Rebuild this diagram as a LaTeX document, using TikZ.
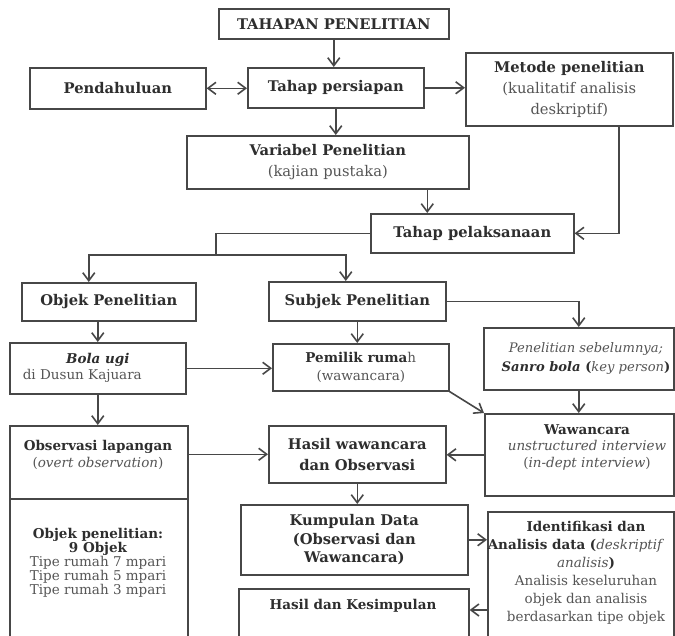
\documentclass[tikz,border=0pt]{standalone}
\usepackage{fontspec}
\setmainfont{DejaVu Serif}
\usetikzlibrary{arrows.meta,calc}
\definecolor{ink}{HTML}{2E2E2E}
\definecolor{soft}{HTML}{555555}
\definecolor{edgec}{HTML}{474747}
\newcommand{\rg}[1]{{\color{soft}\mdseries #1}}
\newcommand{\fs}[2]{\fontsize{#1}{#2}\selectfont}
\begin{document}
\begin{tikzpicture}[x=1pt,y=-1pt,
  box/.style={draw=edgec, line width=1.6pt, rectangle, inner sep=0pt, anchor=north west,
              align=center, text=ink, font=\fs{14.7}{21}\bfseries},
  lbl/.style={inner sep=0pt, align=center, text=ink, font=\fs{13.5}{18}\bfseries},
  ln/.style={draw=edgec, line width=1.6pt},
  arr/.style={ln, -{Straight Barb[length=8pt,width=12pt,line width=1.6pt]}},
  arrb/.style={ln, {Straight Barb[length=8pt,width=12pt,line width=1.6pt]}-{Straight Barb[length=8pt,width=12pt,line width=1.6pt]}}]
\useasboundingbox (0,0) rectangle (675,635);
\clip (0,0) rectangle (675,635);
\fill[white] (0,0) rectangle (675,635);

% boxes
\node[box, minimum width=230pt, minimum height=30pt] (tah) at (218,8) {TAHAPAN PENELITIAN};
\node[box, minimum width=176pt, minimum height=41pt] (pen) at (29,67) {Pendahuluan};
\node[box, minimum width=176pt, minimum height=40pt] (per) at (247,67) {Tahap persiapan};
\node[box, minimum width=207pt, minimum height=73pt] (met) at (465,52)
  {Metode penelitian\\\rg{(kualitatif analisis}\\\rg{deskriptif)}};
\node[box, minimum width=282pt, minimum height=53pt] (var) at (186,135)
  {Variabel Penelitian\\\rg{(kajian pustaka)}};
\node[box, minimum width=203pt, minimum height=39pt] (pel) at (370,213) {Tahap pelaksanaan};
\node[box, minimum width=174pt, minimum height=38pt] (obj) at (21,282) {Objek Penelitian};
\node[box, minimum width=177pt, minimum height=39pt] (sub) at (268,281) {Subjek Penelitian};
\node[box, minimum width=176pt, minimum height=51pt, font=\fs{13.5}{16}\bfseries] (bol) at (9,342)
  {\textit{Bola ugi}\\\rg{di Dusun Kajuara}\hspace*{31pt}};
\node[box, minimum width=176pt, minimum height=47pt, font=\fs{13.5}{18}\bfseries] (pem) at (272,343)
  {Pemilik ruma\rg{h}\\\rg{(wawancara)}};
\node[box, minimum width=190pt, minimum height=62pt] (seb) at (483,327) {};
\node[box, minimum width=189pt, minimum height=82pt] (waw) at (484,413) {};
\node[box, minimum width=177pt, minimum height=57pt] (has) at (268,425)
  {Hasil wawancara\\dan Observasi};
\node[box, minimum width=178pt, minimum height=73pt] (obs) at (9,425) {};
\node[box, minimum width=178pt, minimum height=160pt] (obt) at (9,498) {};
\node[box, minimum width=227pt, minimum height=70pt, font=\fs{14.7}{18.5}\bfseries] (kum) at (240,504)
  {Kumpulan Data\\(Observasi dan\\Wawancara)};
\node[box, minimum width=186pt, minimum height=150pt] (ide) at (487,511) {};
\node[box, minimum width=230pt, minimum height=70pt] (hdk) at (238,588) {};

% texts placed off-centre
\node[lbl, font=\fs{13.1}{19}\bfseries] (sebt) at (586,358)
  {\rg{\itshape Penelitian sebelumnya;}\\\textit{Sanro bola} (\rg{\itshape key person})};
\node[lbl, font=\fs{13.5}{16.5}\bfseries] (wawt) at (587,447)
  {Wawancara\\\rg{\itshape unstructured interview}\\\rg{(\textit{in-dept interview})}};
\node[lbl, font=\fs{13.5}{17}\bfseries] (obst) at (98,455)
  {Observasi lapangan\\\rg{(\textit{overt observation})}};
\node[lbl, font=\fs{13.5}{14}\bfseries] (obtt) at (98,563)
  {Objek penelitian:\\9 Objek\\\rg{Tipe rumah 7 mpari}\\\rg{Tipe rumah 5 mpari}\\\rg{Tipe rumah 3 mpari}};
\node[lbl, font=\fs{13.5}{18}\bfseries] (idet) at (586,573)
  {Identifikasi dan\\Analisis data (\rg{\itshape deskriptif}\rule{22pt}{0pt}\\\rg{\itshape analisis})\\
   \rg{Analisis keseluruhan}\\\rg{objek dan analisis}\\\rg{berdasarkan tipe objek}};
\node[lbl] (hdkt) at (353,606) {Hasil dan Kesimpulan};

% connectors
\draw[arr] (tah.south) -- (tah.south |- per.north);
\draw[arrb] (pen.east) -- (pen.east -| per.west);
\draw[arr] (per.east) -- (per.east -| met.west);
\draw[arr] (per.south) -- (per.south |- var.north);
\draw[arr] ([xshift=-45pt]pel.north |- var.south) -- ([xshift=-45pt]pel.north);
\draw[arr] ([xshift=49.5pt]met.south) |- (pel.east);
\coordinate (bus) at (216,255);
\draw[ln] (pel.west) -| (bus);
\draw[arr] (bus) -| ([xshift=-20pt]obj.north);
\draw[arr] (bus) -| ([xshift=-11.5pt]sub.north);
\draw[arr] (bol.north |- obj.south) -- (bol.north);
\draw[arr] (sub.south) -- (sub.south |- pem.north);
\draw[arr] (sub.east) -| (seb.north);
\draw[arr] (bol.east) -- (bol.east -| pem.west);
\draw[arr] (pem.south east) -- (waw.north west);
\draw[arr] (seb.south) -- (seb.south |- waw.north);
\draw[arr] (waw.west) -- (waw.west -| has.east);
\draw[arr] (bol.south) -- (bol.south |- obs.north);
\draw[arr] (has.west -| obs.east) -- (has.west);
\draw[arr] (has.south) -- (has.south |- kum.north);
\draw[arr] (kum.east) -- (kum.east -| ide.west);
\draw[arr] ([yshift=-22pt]hdk.north east -| ide.west) -- ([yshift=-22pt]hdk.north east);
\end{tikzpicture}
\end{document}
